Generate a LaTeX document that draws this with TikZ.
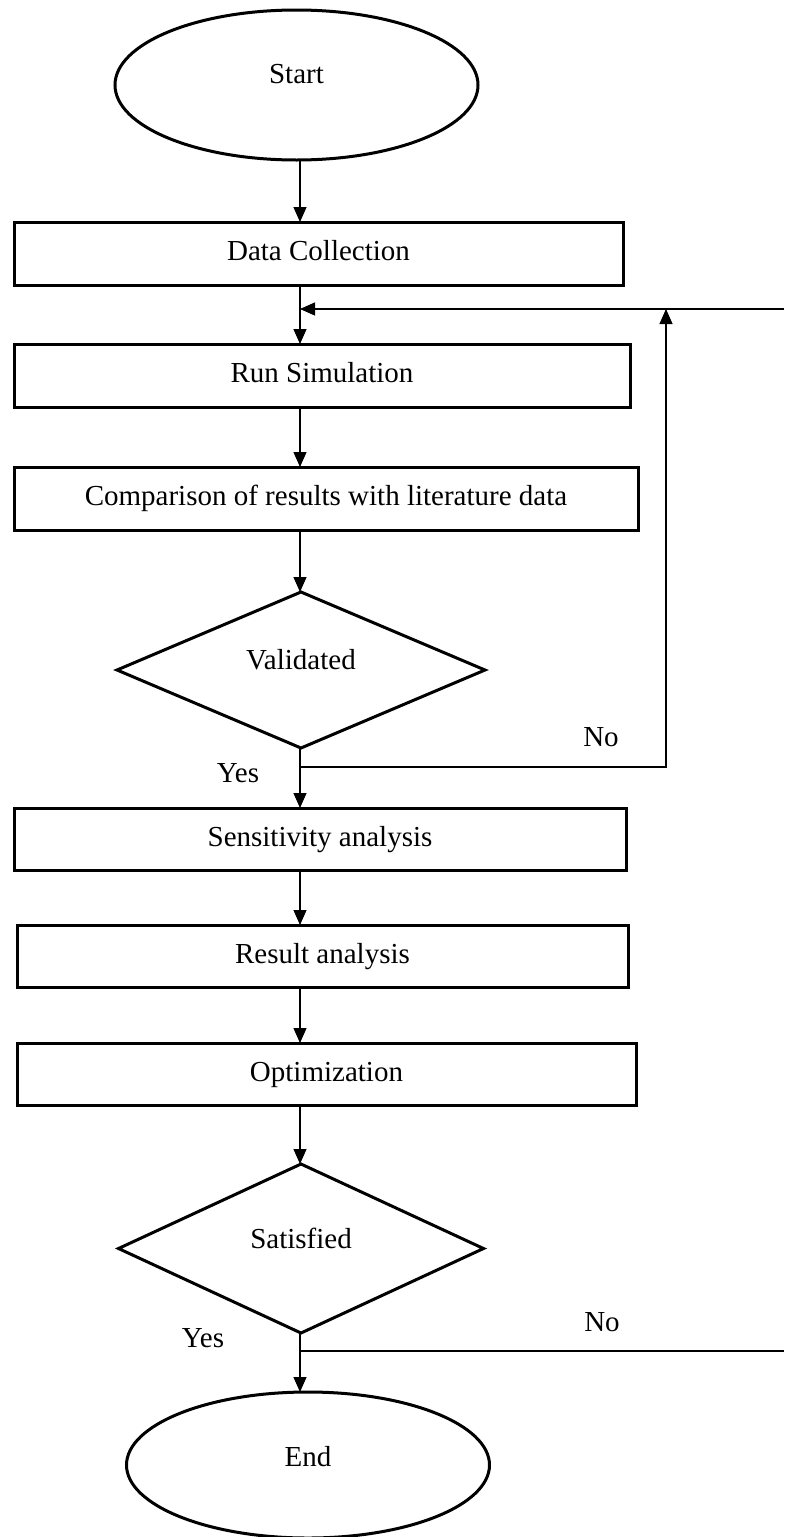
\documentclass[tikz,border=0pt]{standalone}
\usepackage{fontspec}
\setmainfont{Liberation Serif}
\usetikzlibrary{shapes.geometric,arrows.meta}
\begin{document}
\begin{tikzpicture}[x=0.5pt,y=-0.5pt,
  font=\fontsize{14.5}{17}\selectfont,
  every node/.style={inner sep=0pt, outer sep=0pt},
  terminal/.style={ellipse, draw, line width=1.5pt},
  procbox/.style={rectangle, draw, line width=1.5pt, text height=10pt, text depth=3pt},
  decision/.style={diamond, draw, line width=1.5pt, text height=6pt, text depth=6.4pt},
  flow/.style={line width=0.55pt, -{Triangle[length=7.5pt,width=6.5pt]}},
  plainline/.style={line width=0.55pt},
  lbl/.style={}]
\useasboundingbox (0,0) rectangle (784,1537);

% spine coordinate
\coordinate (spine) at (300,0);

% nodes
\node[terminal, minimum width=181.5pt, minimum height=75pt, text height=6pt, text depth=7.4pt] (start) at (296.5,85) {Start};
\node[procbox, minimum width=304.5pt, minimum height=31.5pt] (dc) at (318.5,253.5) {Data Collection};
\node[procbox, minimum width=308pt, minimum height=31.5pt] (rs) at (322,375.5) {Run Simulation};
\node[procbox, minimum width=312pt, minimum height=31.5pt] (cmp) at (326,498.5) {Comparison of results with literature data};
\node[decision, minimum width=184pt, minimum height=78pt] (val) at (301,670) {Validated};
\node[procbox, minimum width=306pt, minimum height=31pt] (sa) at (320,839) {Sensitivity analysis};
\node[procbox, minimum width=305.5pt, minimum height=31pt] (ra) at (322.5,956) {Result analysis};
\node[procbox, minimum width=309.5pt, minimum height=31pt] (opt) at (326.5,1074) {Optimization};
\node[decision, minimum width=182.5pt, minimum height=84.5pt] (sat) at (301,1248.5) {Satisfied};
\node[terminal, minimum width=181.5pt, minimum height=73pt, text height=7pt, text depth=5.4pt] (end) at (308,1465) {End};

% labels
\node[lbl] (yes1) at (238,773) {Yes};
\node[lbl] (no1) at (601,737) {No};
\node[lbl] (yes2) at (203,1338) {Yes};
\node[lbl] (no2) at (602,1322) {No};

% helper coordinates
\coordinate (noA) at (300,767);
\coordinate (loopR) at (666,767);
\coordinate (fb) at (666,309);
\coordinate (join) at (300,309);
\coordinate (edgeR) at (784,309);
\coordinate (noB) at (300,1351);
\coordinate (edgeR2) at (784,1351);

% main flow
\draw[flow] (start.south -| spine) -- (dc.north -| spine);
\draw[flow] (dc.south -| spine) -- (rs.north -| spine);
\draw[flow] (rs.south -| spine) -- (cmp.north -| spine);
\draw[flow] (cmp.south -| spine) -- (val.north -| spine);
\draw[flow] (val.south -| spine) -- (sa.north -| spine);
\draw[flow] (sa.south -| spine) -- (ra.north -| spine);
\draw[flow] (ra.south -| spine) -- (opt.north -| spine);
\draw[flow] (opt.south -| spine) -- (sat.north -| spine);
\draw[flow] (sat.south -| spine) -- (end.north -| spine);

% feedback loops
\draw[flow] (noA) -- (loopR) -- (fb);
\draw[flow] (edgeR) -- (join);
\draw[plainline] (noB) -- (edgeR2);
\end{tikzpicture}
\end{document}
